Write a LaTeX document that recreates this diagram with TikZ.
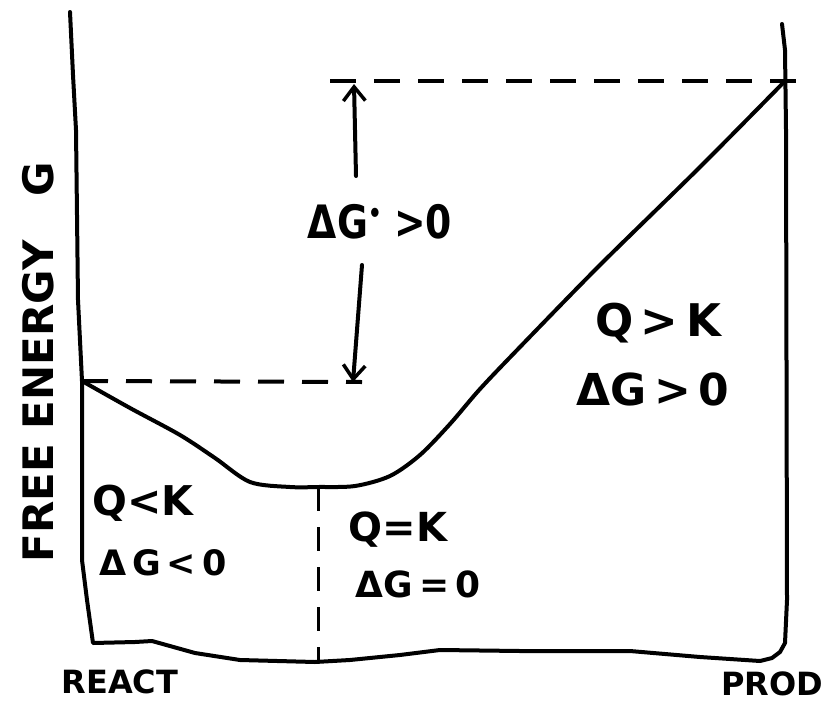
\documentclass[tikz,border=0pt]{standalone}
\usepackage{fontspec}
\setmainfont{DejaVu Sans}
\usetikzlibrary{arrows.meta}
\tikzset{
  ink/.style={line width=4pt, line cap=round, line join=round},
  dashline/.style={line width=4pt, dash pattern=on 26pt off 18pt},
  lbl/.style={inner sep=0pt, font=\bfseries\fontsize{#1}{#1}\selectfont},
  barb/.style={-{Straight Barb[length=14pt, width=22pt, line width=3.5pt]}}
}
\begin{document}
\begin{tikzpicture}[x=1pt, y=-1pt]
\useasboundingbox (0,0) rectangle (835,704);
% axes frame
\coordinate (lt) at (70,12);
\coordinate (lb) at (93,643);
\coordinate (rt) at (782,24);
\coordinate (rb) at (785,643);
\draw[ink] (lt) -- (73,75) -- (76,130) -- (78,300) -- (82,381) -- (82,560) -- (87,600) -- (lb)
  -- (135,642) -- (152,641) -- (195,653) -- (240,660) -- (315,662) -- (350,660)
  -- (400,655) -- (440,650) -- (520,651) -- (630,651) -- (700,657) -- (760,661) -- (772,658)
  -- (780,652) -- (rb) -- (787,600) -- (786,130) -- (785,50) -- (rt);
% curve
\coordinate (c0) at (82,381);
\coordinate (cmin) at (318,487);
\coordinate (c1) at (785,81);
\draw[ink] plot[smooth, tension=0.5] coordinates {(c0) (130,408) (180,435) (215,458) (250,482) (290,487) (cmin) (355,486) (390,476) (420,455) (450,424) (480,389) (520,347) (600,265) (700,167) (c1)};
% dashed levels
\coordinate (d0) at (362,382);
\coordinate (d1a) at (330,81);
\coordinate (d1b) at (797,81);
\draw[dashline] (c0) -- (d0);
\draw[dashline] (d1a) -- (d1b);
\coordinate (cbot) at (318,662);
\draw[line width=3pt, dash pattern=on 24pt off 16pt] (cmin) -- (cbot);
% delta G standard arrows
\node[lbl=46, xscale=0.82] (dg) at (380,222) {ΔG\raisebox{0.35em}{\fontsize{26}{26}\selectfont•}\,\,>0};
\coordinate (a1s) at (356,176);
\coordinate (a1e) at (354,84);
\coordinate (a2s) at (362,265);
\coordinate (a2e) at (353,382);
\draw[ink, barb] (a1s) -- (a1e);
\draw[ink, barb] (a2s) -- (a2e);
% region labels
\node[lbl=41] (q1) at (143,503) {Q<K};
\node[lbl=35] (g1) at (163,563) {Δ\,G\,<\,0};
\node[lbl=40] (q2) at (398,530) {Q=K};
\node[lbl=36] (g2) at (418,584) {ΔG\,=\,0};
\node[lbl=45] (q3) at (658,323) {Q\,>\,K};
\node[lbl=44] (g3) at (653,389) {ΔG\,>\,0};
% axis labels
\node[lbl=32] (react) at (120,682) {REACT};
\node[lbl=32] (prod) at (772,684) {PROD};
\node[lbl=42, rotate=90] (yl) at (38,362) {FREE ENERGY\ \ \ G};
\end{tikzpicture}
\end{document}
